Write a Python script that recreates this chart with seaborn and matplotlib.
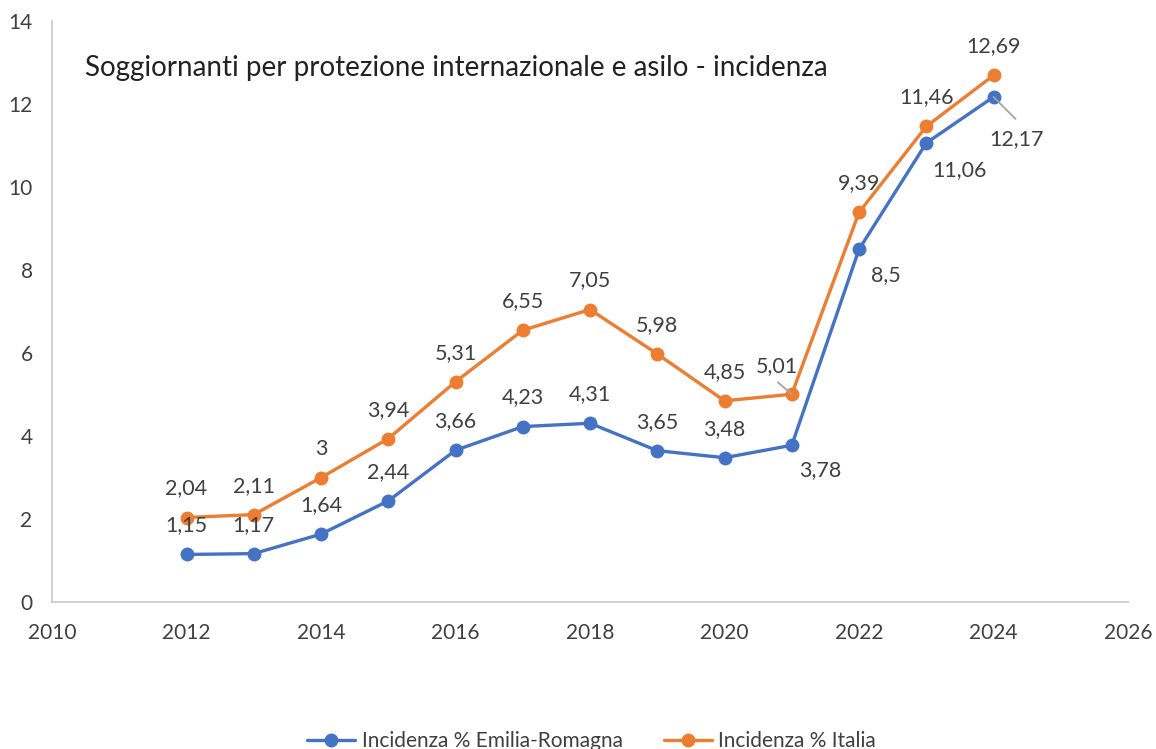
import matplotlib
matplotlib.use("Agg")
import matplotlib.pyplot as plt
import seaborn as sns
import pandas as pd

years = [2012, 2013, 2014, 2015, 2016, 2017, 2018, 2019, 2020, 2021, 2022, 2023, 2024]
emilia = [1.15, 1.17, 1.64, 2.44, 3.66, 4.23, 4.31, 3.65, 3.48, 3.78, 8.5, 11.06, 12.17]
italia = [2.04, 2.11, 3.0, 3.94, 5.31, 6.55, 7.05, 5.98, 4.85, 5.01, 9.39, 11.46, 12.69]
emilia_labels = ["1,15", "1,17", "1,64", "2,44", "3,66", "4,23", "4,31", "3,65", "3,48", "3,78", "8,5", "11,06", "12,17"]
italia_labels = ["2,04", "2,11", "3", "3,94", "5,31", "6,55", "7,05", "5,98", "4,85", "5,01", "9,39", "11,46", "12,69"]
series_names = ["Incidenza % Emilia-Romagna", "Incidenza % Italia"]
title = "Soggiornanti per protezione internazionale e asilo - incidenza"
x_ticks = [2010, 2012, 2014, 2016, 2018, 2020, 2022, 2024, 2026]
y_ticks = [0, 2, 4, 6, 8, 10, 12, 14]

sns.set_theme(style="white")
plt.rcParams['font.family'] = ['Lato', 'DejaVu Sans']

df = pd.DataFrame({
    "Anno": years * 2,
    "Valore": emilia + italia,
    "Serie": [series_names[0]] * len(years) + [series_names[1]] * len(years),
})

BLUE = "#4472C4"
ORANGE = "#ED7D31"
TXT = "#404040"

fig = plt.figure(figsize=(11.56, 7.49), dpi=100)
ax = fig.add_axes([0.045, 0.196, 0.9308, 0.776])

sns.lineplot(data=df, x="Anno", y="Valore", hue="Serie", palette=[BLUE, ORANGE],
             marker="o", markersize=10, markeredgewidth=0, linewidth=2.4,
             ax=ax, legend=True)

ax.set_xlim(2010, 2026)
ax.set_ylim(0, 14)
ax.set_xticks(x_ticks)
ax.set_yticks(y_ticks)
ax.set_xlabel("")
ax.set_ylabel("")
ax.tick_params(axis="x", labelsize=15, colors=TXT, pad=15, length=0)
ax.tick_params(axis="y", labelsize=15, colors=TXT, pad=14, length=0)
for s in ["top", "right"]:
    ax.spines[s].set_visible(False)
for s in ["left", "bottom"]:
    ax.spines[s].set_color("#C8C8C8")
    ax.spines[s].set_linewidth(1.2)

px = 0.72  # px -> pt at 100 dpi
LBL = 15.5

# Italy labels: all above
for x, y, lab in zip(years, italia, italia_labels):
    dx, dy = 0, -29
    if x == 2021:
        dx, dy = -15, -28
    ax.annotate(lab, (x, y), xytext=(dx * px, -dy * px), textcoords="offset points",
                ha="center", va="center", fontsize=LBL, color=TXT)

# Emilia labels
em_off = {2021: (28, 25), 2022: (27, 26), 2023: (33, 27), 2024: (23, 42)}
for x, y, lab in zip(years, emilia, emilia_labels):
    dx, dy = em_off.get(x, (0, -29))
    ax.annotate(lab, (x, y), xytext=(dx * px, -dy * px), textcoords="offset points",
                ha="center", va="center", fontsize=LBL, color=TXT)

# leader lines
ax.annotate("", xy=(years[-1], emilia[-1]), xytext=(22 * px, -22 * px), textcoords="offset points",
            arrowprops=dict(arrowstyle="-", color="#A5A5A5", lw=1.3, shrinkA=0, shrinkB=0))
ax.annotate("", xy=(years[9], italia[9]), xytext=(-14 * px, 12 * px), textcoords="offset points",
            arrowprops=dict(arrowstyle="-", color="#A5A5A5", lw=1.3, shrinkA=0, shrinkB=0))

ax.text(85 / 1156, 1 - 68 / 749, title, transform=fig.transFigure, fontsize=20,
        color="#222222", ha="left", va="center")

handles, labels = ax.get_legend_handles_labels()
ax.get_legend().remove()
fig.legend(handles, labels, loc="center", bbox_to_anchor=(0.512, 8 / 749), ncol=2,
           frameon=False, fontsize=15, handlelength=2.3, handletextpad=0.3,
           columnspacing=2.0, labelcolor=TXT)

fig.savefig("out.png", dpi=100)
